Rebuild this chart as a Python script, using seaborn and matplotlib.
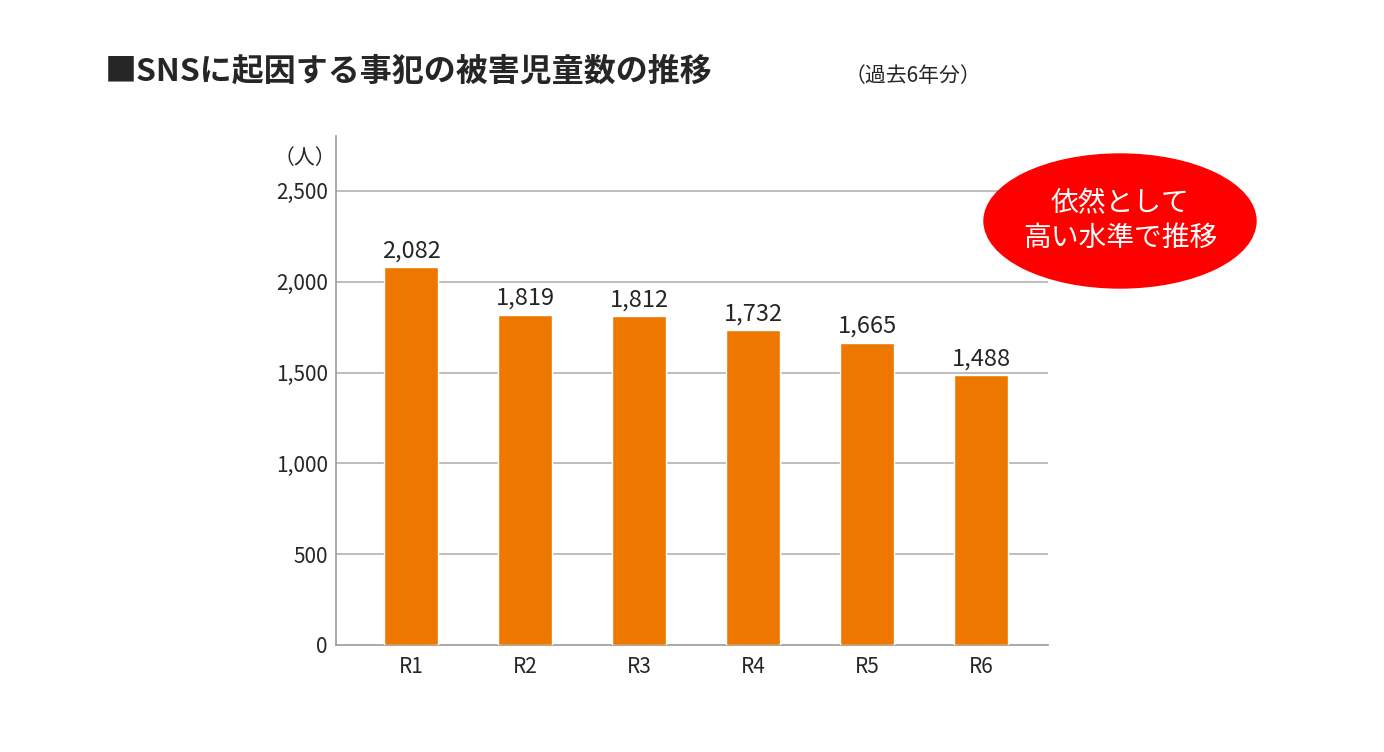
import matplotlib
matplotlib.use("Agg")
import matplotlib.pyplot as plt
from matplotlib.patches import Ellipse
import pandas as pd
import seaborn as sns

years = ["R1", "R2", "R3", "R4", "R5", "R6"]
victims = [2082, 1819, 1812, 1732, 1665, 1488]
value_labels = ["2,082", "1,819", "1,812", "1,732", "1,665", "1,488"]
y_ticks = [0, 500, 1000, 1500, 2000, 2500]
y_tick_labels = ["0", "500", "1,000", "1,500", "2,000", "2,500"]

sns.set_theme(style="white")
plt.rcParams["font.family"] = ["Noto Sans CJK JP", "DejaVu Sans"]

df = pd.DataFrame({"year": years, "victims": victims})

fig = plt.figure(figsize=(13.84, 7.52), dpi=100)
ax = fig.add_axes([0.2428, 0.1423, 0.5145, 0.677])

sns.barplot(data=df, x="year", y="victims", color="#ee7700", saturation=1,
            width=0.47, ax=ax, zorder=3)

ax.set_xlim(-0.658, 5.588)
ax.set_ylim(0, 2803)
ax.set_yticks(y_ticks)
ax.set_yticklabels(y_tick_labels, fontsize=15)
ax.tick_params(axis="x", labelsize=15, length=0, pad=8)
ax.tick_params(axis="y", length=0, pad=6)
ax.set_xlabel("")
ax.set_ylabel("")
for y in y_ticks[1:]:
    ax.axhline(y, color="#b3b3b3", lw=1.2, zorder=1)
for side in ["top", "right"]:
    ax.spines[side].set_visible(False)
for side in ["left", "bottom"]:
    ax.spines[side].set_color("#999999")
    ax.spines[side].set_linewidth(1.2)

for i, (v, lbl) in enumerate(zip(victims, value_labels)):
    ax.text(i, v + 25, lbl, ha="center", va="bottom", fontsize=17, zorder=4)

ax.text(-0.658, 2620, "（人）", ha="right", va="bottom", fontsize=15)

fig.text(105 / 1384, 1 - 72 / 752, "■SNSに起因する事犯の被害児童数の推移",
         fontsize=23, fontweight="bold", va="center", ha="left")
fig.text(845 / 1384, 1 - 76 / 752, "（過去6年分）", fontsize=15, va="center", ha="left")

ell = Ellipse((1120 / 1384, 1 - 221 / 752), 272 / 1384, 134 / 752,
              transform=fig.transFigure, color="#ff0000", zorder=5)
fig.patches.append(ell)
fig.text(1120 / 1384, 1 - 221 / 752, "依然として\n高い水準で推移", color="white",
         fontsize=20, ha="center", va="center", linespacing=1.2, zorder=6)

fig.savefig("out.png", dpi=100)
